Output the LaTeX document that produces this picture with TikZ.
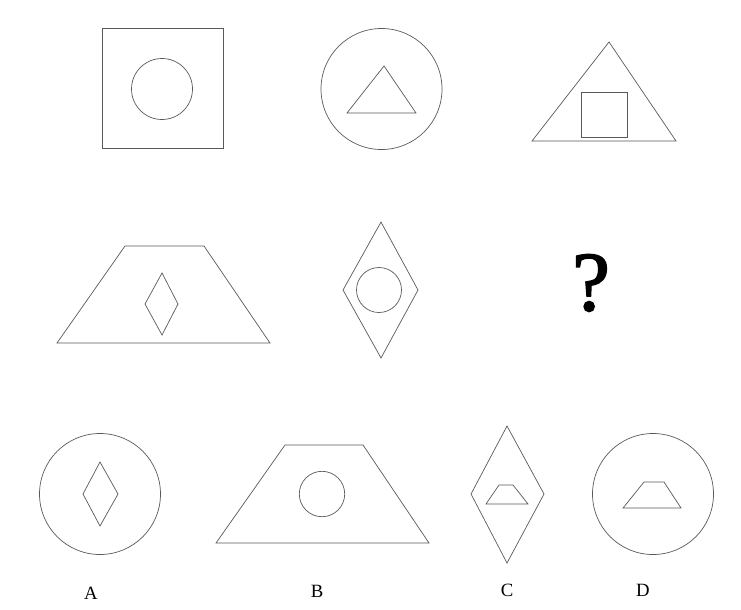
\documentclass[tikz,border=0pt]{standalone}
\usepackage{fontspec}
\setmainfont{Liberation Serif}
\newfontfamily\qmfont[FakeBold=2]{Liberation Serif}
\usepackage{tikz}

\begin{document}
\begin{tikzpicture}[x=0.03cm,y=-0.03cm,
    fig/.style={draw=black!65,line width=0.6pt},
    lbl/.style={font=\fontsize{16}{16}\selectfont,inner sep=0pt}]
  \useasboundingbox (0,0) rectangle (741,609);
  % row 1
  \draw[fig] (102,28) rectangle (223,148);
  \draw[fig] (162,89) circle (30.5);
  \draw[fig] (381.5,89) circle (60.5);
  \draw[fig] (384,66) -- (416,113) -- (347,113) -- cycle;
  \draw[fig] (609,42) -- (676,141) -- (532,141) -- cycle;
  \draw[fig] (581,92) rectangle (627,137);
  % row 2
  \draw[fig] (125,246) -- (204,246) -- (270,343) -- (57,343) -- cycle;
  \draw[fig] (162,273) -- (178,304) -- (162,335) -- (145,304) -- cycle;
  \draw[fig] (381,222) -- (418,290) -- (381,358) -- (343,290) -- cycle;
  \draw[fig] (379,290) circle (22.5);
  \node[font=\qmfont\fontsize{72}{72}\selectfont,inner sep=0pt] (qm) at (591,283) {?};
  % row 3: options
  \draw[fig] (100,494) circle (60.5);
  \draw[fig] (100,462) -- (118,494) -- (100,526) -- (83,494) -- cycle;
  \draw[fig] (285,445) -- (363,445) -- (429,543) -- (216,543) -- cycle;
  \draw[fig] (322,494) circle (22.7);
  \draw[fig] (507,426) -- (544,494) -- (507,563) -- (471,494) -- cycle;
  \draw[fig] (499,485) -- (513,485) -- (528,504) -- (486,504) -- cycle;
  \draw[fig] (653,494) circle (60.5);
  \draw[fig] (644,482) -- (664,482) -- (681,508) -- (623,508) -- cycle;
  \node[lbl] (optA) at (91,593) {A};
  \node[lbl] (optB) at (317,591) {B};
  \node[lbl] (optC) at (507,590) {C};
  \node[lbl] (optD) at (643,590) {D};
\end{tikzpicture}
\end{document}
